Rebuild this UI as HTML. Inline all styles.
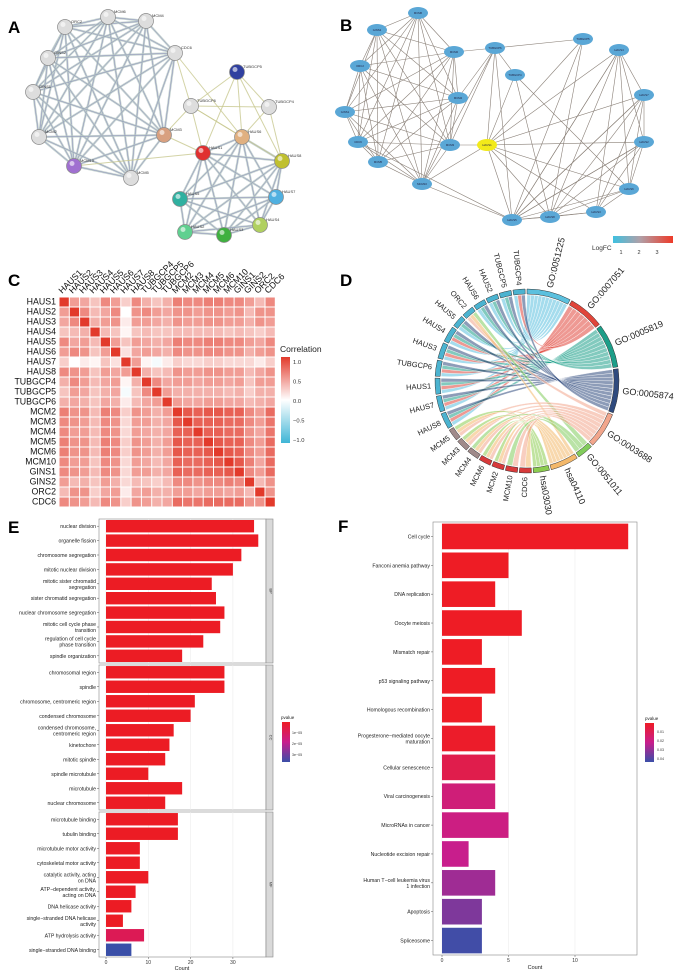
<!DOCTYPE html>
<html><head><meta charset="utf-8"><style>
body{margin:0;background:#fff}
svg{display:block;font-family:"Liberation Sans",sans-serif}
</style></head><body>
<svg id="s" width="680" height="974" viewBox="0 0 680 974">
<defs>
<linearGradient id="corrGrad" x1="0" y1="0" x2="0" y2="1"><stop offset="0" stop-color="#e23a2b"/><stop offset="0.5" stop-color="#ffffff"/><stop offset="1" stop-color="#3fb5d6"/></linearGradient>
<linearGradient id="logfcGrad" x1="0" y1="0" x2="1" y2="0"><stop offset="0" stop-color="#3fc0e0"/><stop offset="0.45" stop-color="#b0a0a8"/><stop offset="1" stop-color="#ee3a28"/></linearGradient>
<linearGradient id="pGradE" x1="0" y1="0" x2="0" y2="1"><stop offset="0" stop-color="#ee1c25"/><stop offset="0.5" stop-color="#c81e8c"/><stop offset="1" stop-color="#3a4fa8"/></linearGradient>
<linearGradient id="pGradF" x1="0" y1="0" x2="0" y2="1"><stop offset="0" stop-color="#ee1c25"/><stop offset="0.5" stop-color="#c81e8c"/><stop offset="1" stop-color="#3a4fa8"/></linearGradient>
</defs>
<g font-size="17" font-weight="bold">
<text x="8" y="33">A</text>
<text x="340" y="31">B</text>
<text x="8" y="286">C</text>
<text x="340" y="286">D</text>
<text x="8" y="533">E</text>
<text x="338" y="532">F</text>
</g>
<g id="A"></g><g id="B"></g><g id="C"></g><g id="D"></g><g id="E"></g><g id="F"></g>
</svg>
<script>
const NS="http://www.w3.org/2000/svg";
function mk(p,t,a,txt){const e=document.createElementNS(NS,t);for(const k in a)e.setAttribute(k,a[k]);if(txt!==undefined)e.textContent=txt;p.appendChild(e);return e;}

/* ---------- Panel A: STRING network ---------- */
const aNames=["ORC2","MCM6","MCM4","CDC6","GINS2","GINS1","MCM2","MCM10","MCM5","MCM3","TUBGCP6","TUBGCP5","TUBGCP4","HAUS6","HAUS1","HAUS8","HAUS7","HAUS4","HAUS3","HAUS2","HAUS5"];
const aX=[65,108,146,175,48,33,39,74,131,164,191,237,269,242,203,282,276,260,224,185,180];
const aY=[27,17,21,53,58,92,137,166,178,135,106,72,107,137,153,161,197,225,235,232,199];
const aCol=["#ddd","#ddd","#ddd","#ddd","#ddd","#ddd","#ddd","#a070d0","#ddd","#d8a080","#ddd","#3040a0","#ddd","#e0b080","#e03030","#c0c030","#50b0e0","#b0d060","#40b040","#60d090","#30b0a0"];
const A=document.getElementById('A');
(function(){
 const mcm=[0,1,2,3,4,5,6,7,8,9], haus=[13,14,15,16,17,18,19,20];
 const edges=[];
 for(let i=0;i<mcm.length;i++)for(let j=i+1;j<mcm.length;j++)edges.push([mcm[i],mcm[j],0]);
 for(let i=0;i<haus.length;i++)for(let j=i+1;j<haus.length;j++)edges.push([haus[i],haus[j],0]);
 [[10,11],[10,12],[11,12],[11,13],[11,15],[12,13],[12,15],[10,14],[10,13],[3,10],[3,13],[9,10],[9,14],[7,14],[10,15],[11,14]].forEach(e=>edges.push([e[0],e[1],1]));
 edges.forEach(e=>{
  mk(A,'line',{x1:aX[e[0]],y1:aY[e[0]],x2:aX[e[1]],y2:aY[e[1]],stroke:e[2]?'#c8c890':'#b9c9c6','stroke-width':e[2]?1:2.2,'stroke-opacity':0.8});
  if(!e[2])mk(A,'line',{x1:aX[e[0]],y1:aY[e[0]],x2:aX[e[1]],y2:aY[e[1]],stroke:'#7070b0','stroke-width':0.5,'stroke-opacity':0.7});
 });
 aNames.forEach((n,i)=>{
  const c=mk(A,'circle',{cx:aX[i],cy:aY[i],r:7.5,fill:aCol[i],stroke:'#888','stroke-width':0.7});
  
  
  mk(A,'circle',{cx:aX[i]-2,cy:aY[i]-2.5,r:2.5,fill:'#fff','fill-opacity':0.6});
  mk(A,'text',{x:aX[i]+6,y:aY[i]-4,'font-size':4,fill:'#333'},n);
 });
})();

/* ---------- Panel B: Cytoscape network ---------- */
const bNames=["MCM6","GINS2","MCM2","ORC2","MCM4","GINS1","CDC6","MCM3","MCM5","MCM10","TUBGCP6","TUBGCP4","TUBGCP5","HAUS4","HAUS7","HAUS2","HAUS1","HAUS6","HAUS3","HAUS8","HAUS5"];
const bX=[418,377,454,360,458,345,358,450,378,422,495,515,583,619,644,644,487,629,596,550,512];
const bY=[13,30,52,66,98,112,142,145,162,184,48,75,39,50,95,142,145,189,212,217,220];
const B=document.getElementById('B');
(function(){
 const left=[0,1,2,3,4,5,6,7,8,9], right=[13,14,15,17,18,19,20];
 const E=[];
 for(let i=0;i<left.length;i++)for(let j=i+1;j<left.length;j++)E.push([left[i],left[j]]);
 for(let i=0;i<right.length;i++)for(let j=i+1;j<right.length;j++)E.push([right[i],right[j]]);
 [[16,7],[16,9],[16,10],[16,11],[16,12],[16,13],[16,14],[16,15],[16,17],[16,18],[16,19],[16,20],[10,12],[10,11],[10,2],[10,4],[10,7],[10,9],[10,20],[11,17],[11,19],[12,20],[12,19],[13,20],[14,20],[15,20],[9,20],[6,20]].forEach(e=>E.push(e));
 E.forEach(e=>mk(B,'line',{x1:bX[e[0]],y1:bY[e[0]],x2:bX[e[1]],y2:bY[e[1]],stroke:'#8a8078','stroke-width':0.6}));
 bNames.forEach((n,i)=>{
  const el=mk(B,'ellipse',{cx:bX[i],cy:bY[i],rx:10,ry:6,fill:n==='HAUS1'?'#f2ea1a':'#5aa7d6'});
  
  
  mk(B,'text',{x:bX[i],y:bY[i]+1,'font-size':2.8,'text-anchor':'middle',fill:'#224'},n);
 });
 mk(B,'text',{x:592,y:250,'font-size':6.5,fill:'#333',},'LogFC');
 mk(B,'rect',{x:613,y:236,width:60,height:7,fill:'url(#logfcGrad)',});
 [["1",621],["2",639],["3",657]].forEach(t=>mk(B,'text',{x:t[1],y:254,'font-size':5.5,'text-anchor':'middle',fill:'#333'},t[0]));
})();

/* ---------- Panel C: correlation heatmap ---------- */
const genes=["HAUS1","HAUS2","HAUS3","HAUS4","HAUS5","HAUS6","HAUS7","HAUS8","TUBGCP4","TUBGCP5","TUBGCP6","MCM2","MCM3","MCM4","MCM5","MCM6","MCM10","GINS1","GINS2","ORC2","CDC6"];
const corrLower=[
[1],
[.5,1],
[.45,.6,1],
[.3,.35,.4,1],
[.6,.45,.5,.35,1],
[.5,.6,.55,.3,.5,1],
[.25,0,.1,.05,.3,.15,1],
[.6,.55,.5,.3,.5,.45,.5,1],
[.4,.6,.5,.35,.45,.5,.05,.4,1],
[.3,.5,.45,.3,.4,.45,-.05,.3,.6,1],
[.4,.45,.4,.3,.45,.4,.1,.35,.45,.5,1],
[.65,.55,.55,.35,.65,.6,.25,.55,.5,.4,.5,1],
[.6,.55,.5,.35,.6,.55,.2,.5,.5,.4,.45,.85,1],
[.6,.5,.5,.35,.6,.55,.2,.5,.45,.4,.45,.8,.8,1],
[.65,.55,.55,.35,.65,.6,.25,.55,.5,.4,.5,.85,.8,.8,1],
[.65,.55,.55,.35,.65,.6,.25,.55,.5,.4,.5,.85,.8,.8,.85,1],
[.6,.5,.5,.3,.6,.55,.2,.5,.45,.35,.45,.8,.75,.75,.8,.85,1],
[.6,.55,.5,.35,.6,.55,.2,.5,.5,.4,.45,.8,.75,.75,.8,.8,.85,1],
[.5,.35,.4,.3,.5,.4,.2,.35,.3,.25,.35,.6,.6,.55,.6,.6,.65,.6,1],
[.35,.55,.55,.25,.45,.5,.1,.45,.5,.4,.4,.5,.5,.45,.5,.5,.45,.5,.35,1],
[.6,.55,.5,.35,.6,.55,.25,.55,.5,.4,.45,.75,.7,.7,.75,.75,.75,.75,.55,.55,1]];
const corrTicks=["1.0","0.5","0.0","−0.5","−1.0"];
const C=document.getElementById('C');
(function(){
 const x0=59,y0=297,cw=10.3,ch=10;
 const lerp=(a,b,t)=>Math.round(a+(b-a)*t);
 function col(v){if(v>=0)return `rgb(${lerp(255,226,v)},${lerp(255,58,v)},${lerp(255,43,v)})`;v=-v;return `rgb(${lerp(255,63,v)},${lerp(255,181,v)},${lerp(255,214,v)})`;}
 const val=(i,j)=>i>=j?corrLower[i][j]:corrLower[j][i];
 genes.forEach((g,i)=>{
  genes.forEach((h,j)=>{
   const r=mk(C,'rect',{x:x0+j*cw+0.5,y:y0+i*ch+0.5,width:cw-1,height:ch-1,fill:col(val(i,j))});
   
   
  });
  mk(C,'text',{x:x0-3,y:y0+i*ch+7.5,'font-size':8.8,'text-anchor':'end',fill:'#111'},g);
  const cx=x0+i*cw+cw/2-2,cy=y0-3;
  mk(C,'text',{x:cx,y:cy,'font-size':8.8,fill:'#111',transform:`rotate(-45 ${cx} ${cy})`},g);
 });
 mk(C,'text',{x:280,y:352,'font-size':8.5,fill:'#222',},'Correlation');
 mk(C,'rect',{x:281,y:357,width:9,height:86,fill:'url(#corrGrad)',});
 corrTicks.forEach((t,k)=>mk(C,'text',{x:293,y:364+k*19.5,'font-size':5.8,fill:'#333'},t));
})();

/* ---------- Panel D: chord diagram ---------- */
const segNames=["GO:0051225","GO:0007051","GO:0005819","GO:0005874","GO:0003688","GO:0051011","hsa04110","hsa03030","CDC6","MCM10","MCM2","MCM6","MCM4","MCM3","MCM5","HAUS8","HAUS7","HAUS1","TUBGCP6","HAUS3","HAUS4","HAUS5","ORC2","HAUS6","HAUS2","TUBGCP5","TUBGCP4"];
const segSizes=[11,9,11,11,9,4,7,4,3,3,3,3,3,3,3,4,4,4,4,4,4,3,3,3,3,3,3];
const segColors=["#5bc0de","#e0453a","#1c9e88","#2f4a7e","#f2a68c","#82cc5c","#f3b86a","#8ccc50","#d83a3a","#d83a3a","#d83a3a","#d83a3a","#a08a8a","#a08a8a","#a08a8a","#4bb3d0","#4bb3d0","#4bb3d0","#4bb3d0","#4bb3d0","#4bb3d0","#4bb3d0","#4bb3d0","#4bb3d0","#4bb3d0","#4bb3d0","#4bb3d0"];
const chordLinks=[
["HAUS8","GO:0051225"],["HAUS8","GO:0007051"],["HAUS8","GO:0005819"],["HAUS8","GO:0005874"],
["HAUS7","GO:0051225"],["HAUS7","GO:0007051"],["HAUS7","GO:0005819"],["HAUS7","GO:0005874"],
["HAUS1","GO:0051225"],["HAUS1","GO:0007051"],["HAUS1","GO:0005819"],["HAUS1","GO:0005874"],
["TUBGCP6","GO:0051225"],["TUBGCP6","GO:0007051"],["TUBGCP6","GO:0005819"],["TUBGCP6","GO:0005874"],
["HAUS3","GO:0051225"],["HAUS3","GO:0007051"],["HAUS3","GO:0005819"],["HAUS3","GO:0005874"],
["HAUS4","GO:0051225"],["HAUS4","GO:0007051"],["HAUS4","GO:0005819"],["HAUS4","GO:0005874"],
["HAUS5","GO:0051225"],["HAUS5","GO:0005819"],["HAUS5","GO:0005874"],
["ORC2","GO:0003688"],["ORC2","hsa04110"],["ORC2","GO:0051011"],
["HAUS6","GO:0051225"],["HAUS6","GO:0005819"],["HAUS6","GO:0005874"],
["HAUS2","GO:0051225"],["HAUS2","GO:0005819"],["HAUS2","GO:0005874"],
["TUBGCP5","GO:0051225"],["TUBGCP5","GO:0005819"],["TUBGCP5","GO:0005874"],
["TUBGCP4","GO:0051225"],["TUBGCP4","GO:0007051"],["TUBGCP4","GO:0005874"],
["MCM5","GO:0003688"],["MCM5","hsa04110"],["MCM5","hsa03030"],
["MCM3","GO:0003688"],["MCM3","hsa04110"],["MCM3","hsa03030"],
["MCM4","GO:0003688"],["MCM4","hsa04110"],["MCM4","GO:0051011"],
["MCM6","GO:0003688"],["MCM6","hsa04110"],["MCM6","hsa03030"],
["MCM2","GO:0003688"],["MCM2","hsa04110"],["MCM2","hsa03030"],
["MCM10","GO:0003688"],["MCM10","GO:0051011"],
["CDC6","hsa04110"],["CDC6","GO:0003688"]];
const D=document.getElementById('D');
(function(){
 const cx=527,cy=381,R=86,gap=1.2;
 const tot=segSizes.reduce((a,b)=>a+b,0);
 const unit=(360-gap*segSizes.length)/tot;
 const P=(a,r)=>[cx+r*Math.sin(a*Math.PI/180),cy-r*Math.cos(a*Math.PI/180)];
 let a=0;const segs={};
 segNames.forEach((n,i)=>{const s=a,e=a+segSizes[i]*unit;segs[n]={s,e,i,used:0,cnt:0};a=e+gap;});
 chordLinks.forEach(l=>{segs[l[0]].cnt++;segs[l[1]].cnt++;});
 function sub(n){const g=segs[n];const w=(g.e-g.s)/g.cnt;const r=[g.s+g.used*w,g.s+(g.used+1)*w];g.used++;return r;}
 const rib=mk(D,'g',{});
 chordLinks.forEach(l=>{
  const g=sub(l[0]),o=sub(l[1]);
  const p1=P(g[0],R),p2=P(g[1],R),p3=P(o[0],R),p4=P(o[1],R);
  const d=`M${p1}A${R},${R} 0 0 1 ${p2}Q${cx},${cy} ${p3}A${R},${R} 0 0 1 ${p4}Q${cx},${cy} ${p1}Z`;
  const path=mk(rib,'path',{d,fill:segColors[segs[l[1]].i],'fill-opacity':0.55,stroke:'#fff','stroke-width':0.4});
  
  
 });
 segNames.forEach((n,i)=>{
  const g=segs[n];const r1=R+1,r2=R+6;
  const q1=P(g.s,r2),q2=P(g.e,r2),q3=P(g.e,r1),q4=P(g.s,r1);
  const large=(g.e-g.s)>180?1:0;
  const arc=mk(D,'path',{d:`M${q1}A${r2},${r2} 0 ${large} 1 ${q2}L${q3}A${r1},${r1} 0 ${large} 0 ${q4}Z`,fill:segColors[i],stroke:'#333','stroke-width':0.5});
  
  
  const m=(g.s+g.e)/2,isGo=i<8,fs=isGo?9:7.5;
  const p=P(m,R+10);
  if(m<180)mk(D,'text',{x:p[0],y:p[1],'font-size':fs,fill:'#222','dominant-baseline':'middle',transform:`rotate(${m-90} ${p[0]} ${p[1]})`},n);
  else mk(D,'text',{x:p[0],y:p[1],'font-size':fs,fill:'#222','text-anchor':'end','dominant-baseline':'middle',transform:`rotate(${m+90} ${p[0]} ${p[1]})`},n);
 });
})();

/* ---------- Panel E: GO bar chart ---------- */
const eTermsBP=["nuclear division","organelle fission","chromosome segregation","mitotic nuclear division","mitotic sister chromatid|segregation","sister chromatid segregation","nuclear chromosome segregation","mitotic cell cycle phase|transition","regulation of cell cycle|phase transition","spindle organization"];
const eCountsBP=[35,36,32,30,25,26,28,27,23,18];
const eTermsCC=["chromosomal region","spindle","chromosome, centromeric region","condensed chromosome","condensed chromosome,|centromeric region","kinetochore","mitotic spindle","spindle microtubule","microtubule","nuclear chromosome"];
const eCountsCC=[28,28,21,20,16,15,14,10,18,14];
const eTermsMF=["microtubule binding","tubulin binding","microtubule motor activity","cytoskeletal motor activity","catalytic activity, acting|on DNA","ATP−dependent activity,|acting on DNA","DNA helicase activity","single−stranded DNA helicase|activity","ATP hydrolysis activity","single−stranded DNA binding"];
const eCountsMF=[17,17,8,8,10,7,6,4,9,6];
const eColorsMF=["#ec1c24","#ec1c24","#ec1c24","#ec1c24","#ec1c24","#ec1c24","#ec1c24","#ec1c24","#dc1a55","#3a4fa8"];
const eTicks=[0,10,20,30];
const eLegendTicks=["1e−05","2e−05","3e−05"];
const E=document.getElementById('E');
(function(){
 const x0=106,k=4.23,L=99,Rr=266;
 const sx=v=>x0+v*k;
 const facets=[["BP",eTermsBP,eCountsBP,519,663],["CC",eTermsCC,eCountsCC,665,810],["MF",eTermsMF,eCountsMF,812,957]];
 facets.forEach((f,fi)=>{
  const [lab,terms,counts,top,bot]=f;
  mk(E,'rect',{x:L,y:top,width:Rr-L,height:bot-top,fill:'#fff',stroke:'#888','stroke-width':0.6,});
  eTicks.forEach(t=>mk(E,'line',{x1:sx(t),x2:sx(t),y1:top,y2:bot,stroke:'#ececec','stroke-width':0.6}));
  mk(E,'rect',{x:Rr,y:top,width:7,height:bot-top,fill:'#d9d9d9',stroke:'#888','stroke-width':0.6});
  const my=(top+bot)/2;
  mk(E,'text',{x:Rr+3.5,y:my,'font-size':4,'text-anchor':'middle',transform:`rotate(90 ${Rr+3.5} ${my})`,fill:'#333'},lab);
  const step=(bot-top)/terms.length;
  terms.forEach((t,i)=>{
   const cy=top+step*(i+0.5);
   const b=mk(E,'rect',{x:x0,y:cy-6.2,width:sx(counts[i])-x0,height:12.4,fill:fi===2?eColorsMF[i]:'#ec1c24'});
   
   
   mk(E,'line',{x1:L-2,x2:L,y1:cy,y2:cy,stroke:'#555','stroke-width':0.5});
   const parts=t.split('|');
   parts.forEach((p,j)=>mk(E,'text',{x:L-3,y:cy+2+(j-(parts.length-1)/2)*6,'font-size':5.2,'text-anchor':'end',fill:'#222'},p));
  });
 });
 eTicks.forEach(t=>{mk(E,'line',{x1:sx(t),x2:sx(t),y1:957,y2:959,stroke:'#555','stroke-width':0.5});mk(E,'text',{x:sx(t),y:964,'font-size':5,'text-anchor':'middle',fill:'#333'},String(t));});
 mk(E,'text',{x:182,y:970,'font-size':5.5,'text-anchor':'middle',fill:'#222',},'Count');
 mk(E,'text',{x:281,y:719,'font-size':4.5,fill:'#222'},'pvalue');
 mk(E,'rect',{x:282,y:722,width:8,height:40,fill:'url(#pGradE)',});
 eLegendTicks.forEach((t,i)=>mk(E,'text',{x:292,y:734+i*11,'font-size':3.6,fill:'#333'},t));
})();

/* ---------- Panel F: KEGG bar chart ---------- */
const fTerms=["Cell cycle","Fanconi anemia pathway","DNA replication","Oocyte meiosis","Mismatch repair","p53 signaling pathway","Homologous recombination","Progesterone−mediated oocyte|maturation","Cellular senescence","Viral carcinogenesis","MicroRNAs in cancer","Nucleotide excision repair","Human T−cell leukemia virus|1 infection","Apoptosis","Spliceosome"];
const fCounts=[14,5,4,6,3,4,3,4,4,4,5,2,4,3,3];
const fPvalues=[0.0005,0.002,0.002,0.003,0.004,0.004,0.005,0.006,0.013,0.022,0.024,0.026,0.032,0.037,0.046];
const fTicks=[0,5,10];
const fLegendTicks=["0.01","0.02","0.03","0.04"];
const F=document.getElementById('F');
(function(){
 const L=433,Rr=637,top=522,bot=955,x0=442,k=13.3;
 const sx=v=>x0+v*k;
 function pc(p){const t=Math.max(0,Math.min(1,(p-0.005)/0.042));const a=[238,28,37],m=[200,30,140],b=[58,79,168];let c;if(t<0.5){const u=t/0.5;c=a.map((v,i)=>Math.round(v+(m[i]-v)*u));}else{const u=(t-0.5)/0.5;c=m.map((v,i)=>Math.round(v+(b[i]-v)*u));}return `rgb(${c})`;}
 mk(F,'rect',{x:L,y:top,width:Rr-L,height:bot-top,fill:'#fff',stroke:'#888','stroke-width':0.6,});
 fTicks.forEach(t=>mk(F,'line',{x1:sx(t),x2:sx(t),y1:top,y2:bot,stroke:'#ececec','stroke-width':0.6}));
 const step=(bot-top)/fTerms.length;
 fTerms.forEach((t,i)=>{
  const cy=top+step*(i+0.5);
  const b=mk(F,'rect',{x:x0,y:cy-12.8,width:sx(fCounts[i])-x0,height:25.6,fill:pc(fPvalues[i])});
  
  
  mk(F,'line',{x1:L-2,x2:L,y1:cy,y2:cy,stroke:'#555','stroke-width':0.5});
  const parts=t.split('|');
  parts.forEach((p,j)=>mk(F,'text',{x:L-3,y:cy+2+(j-(parts.length-1)/2)*6,'font-size':5.2,'text-anchor':'end',fill:'#222'},p));
 });
 fTicks.forEach(t=>{mk(F,'line',{x1:sx(t),x2:sx(t),y1:bot,y2:bot+2,stroke:'#555','stroke-width':0.5});mk(F,'text',{x:sx(t),y:962,'font-size':5,'text-anchor':'middle',fill:'#333'},String(t));});
 mk(F,'text',{x:535,y:969,'font-size':5.5,'text-anchor':'middle',fill:'#222',},'Count');
 mk(F,'text',{x:645,y:720,'font-size':4.5,fill:'#222'},'pvalue');
 mk(F,'rect',{x:645,y:723,width:9,height:39,fill:'url(#pGradF)',});
 fLegendTicks.forEach((t,i)=>mk(F,'text',{x:657,y:733+i*9,'font-size':3.6,fill:'#333'},t));
})();
</script>
</body></html>
